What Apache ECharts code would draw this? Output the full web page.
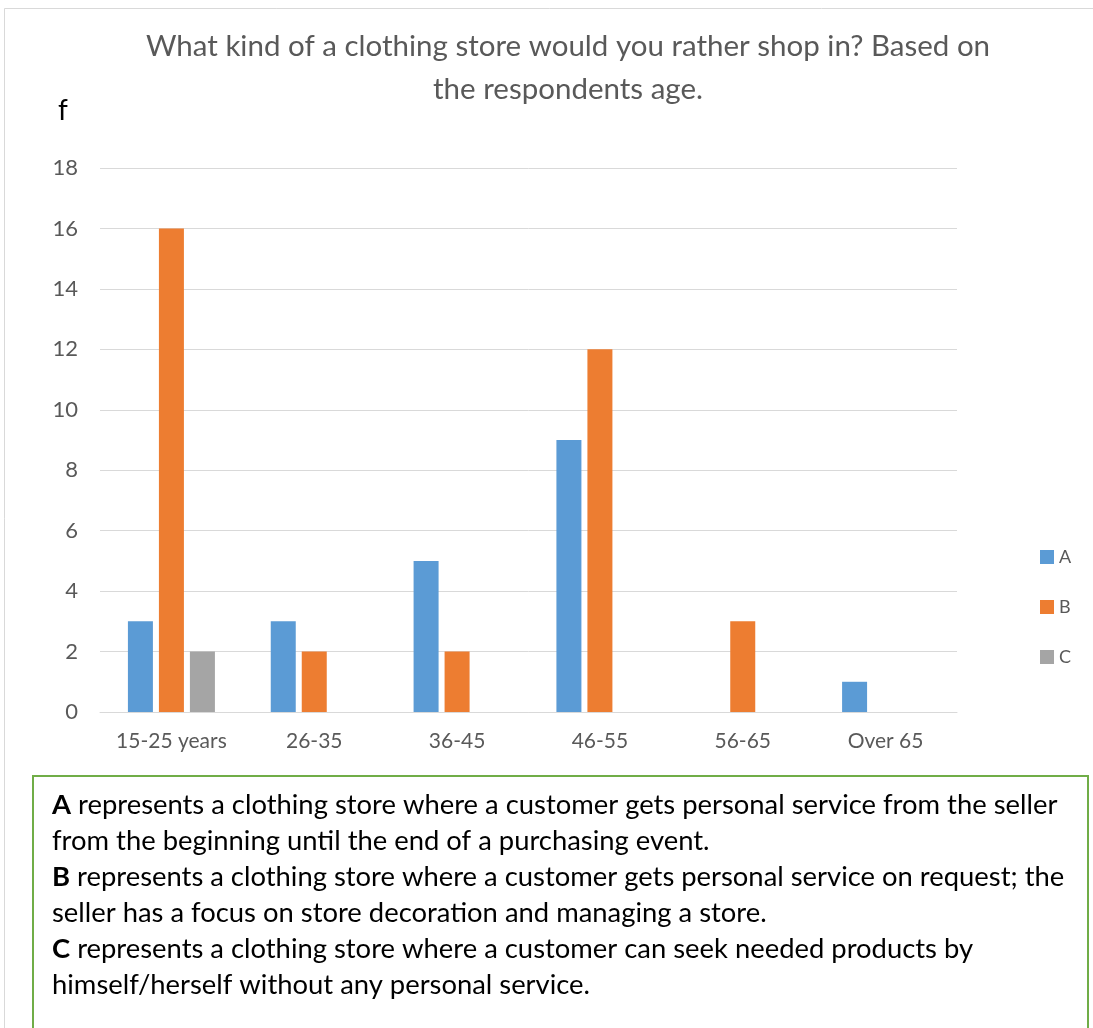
<!DOCTYPE html>
<html><head><meta charset="utf-8">
<script src="https://cdn.jsdelivr.net/npm/echarts@6/dist/echarts.min.js"></script>
<style>html,body{margin:0;padding:0;background:#fff}#c{width:1093px;height:1028px}</style>
</head><body><div id="c"></div>
<script>
const categories = ['15-25 years','26-35','36-45','46-55','56-65','Over 65'];
const seriesA = [3, 3, 5, 9, null, 1];
const seriesB = [16, 2, 2, 12, 3, null];
const seriesC = [2, null, null, null, null, null];
const seriesNames = ['A','B','C'];
const yTicks = {min: 0, max: 18, interval: 2};
const titleText = 'What kind of a clothing store would you rather shop in? Based on\nthe respondents age.';
const yAxisName = 'f';
const noteLines = [
  ['A', ' represents a clothing store where a customer gets personal service from the seller'],
  ['', 'from the beginning until the end of a purchasing event.'],
  ['B', ' represents a clothing store where a customer gets personal service on request; the'],
  ['', 'seller has a focus on store decoration and managing a store.'],
  ['C', ' represents a clothing store where a customer can seek needed products by'],
  ['', 'himself/herself without any personal service.']
];
const FONT = 'Lato, "Open Sans", sans-serif';
const chart = echarts.init(document.getElementById('c'));
const noteText = noteLines.map(l => (l[0] ? '{b|' + l[0] + '}' : '') + '{n|' + l[1] + '}').join('\n');
chart.setOption({
  backgroundColor: '#fff',
  animation: false,
  textStyle: {fontFamily: FONT},
  title: {
    text: titleText, left: 563, top: 20, textAlign: 'center',
    textStyle: {fontFamily: FONT, fontSize: 29.5, fontWeight: 'normal', color: '#595959', lineHeight: 43, align: 'center'}
  },
  legend: {
    orient: 'vertical', left: 1035, top: 543, itemWidth: 14, itemHeight: 14, itemGap: 32,
    icon: 'rect', textStyle: {fontFamily: FONT, fontSize: 18, color: '#595959'},
    data: seriesNames
  },
  grid: {left: 100, right: 136, top: 168, bottom: 316, containLabel: false},
  xAxis: {
    type: 'category', data: categories,
    axisLine: {lineStyle: {color: '#d9d9d9', width: 1}},
    axisTick: {show: false},
    axisLabel: {fontFamily: FONT, fontSize: 21, color: '#595959', margin: 19, interval: 0}
  },
  yAxis: {
    type: 'value', min: yTicks.min, max: yTicks.max, interval: yTicks.interval,
    axisLine: {show: false}, axisTick: {show: false},
    axisLabel: {fontFamily: FONT, fontSize: 22, color: '#595959', margin: 22},
    splitLine: {lineStyle: {color: '#d9d9d9', width: 1}}
  },
  series: [
    {name: seriesNames[0], type: 'bar', data: seriesA, barWidth: 25, barGap: '24%', itemStyle: {color: '#5B9BD5'}},
    {name: seriesNames[1], type: 'bar', data: seriesB, barWidth: 25, barGap: '24%', itemStyle: {color: '#ED7D31'}},
    {name: seriesNames[2], type: 'bar', data: seriesC, barWidth: 25, barGap: '24%', itemStyle: {color: '#A5A5A5'}}
  ],
  graphic: [
    {type: 'rect', shape: {x: 4.5, y: 8.5, width: 1200, height: 1100}, style: {fill: 'none', stroke: '#d9d9d9', lineWidth: 1}, z: -10, silent: true},
    {type: 'text', left: 58, top: 97, style: {text: yAxisName, fontFamily: FONT, fontSize: 28, fill: '#000'}},
    {type: 'rect', shape: {x: 33, y: 776, width: 1055, height: 400}, style: {fill: '#fff', stroke: '#70AD47', lineWidth: 2}, z: 10},
    {type: 'text', left: 52, top: 787, z: 11, style: {
      text: noteText, fontFamily: FONT, fontSize: 27.4, fill: '#000', lineHeight: 36,
      rich: {
        b: {fontFamily: FONT, fontSize: 27.4, fontWeight: 'bold', fill: '#000', lineHeight: 36},
        n: {fontFamily: FONT, fontSize: 27.4, fill: '#000', lineHeight: 36}
      }
    }}
  ]
});
</script></body></html>
